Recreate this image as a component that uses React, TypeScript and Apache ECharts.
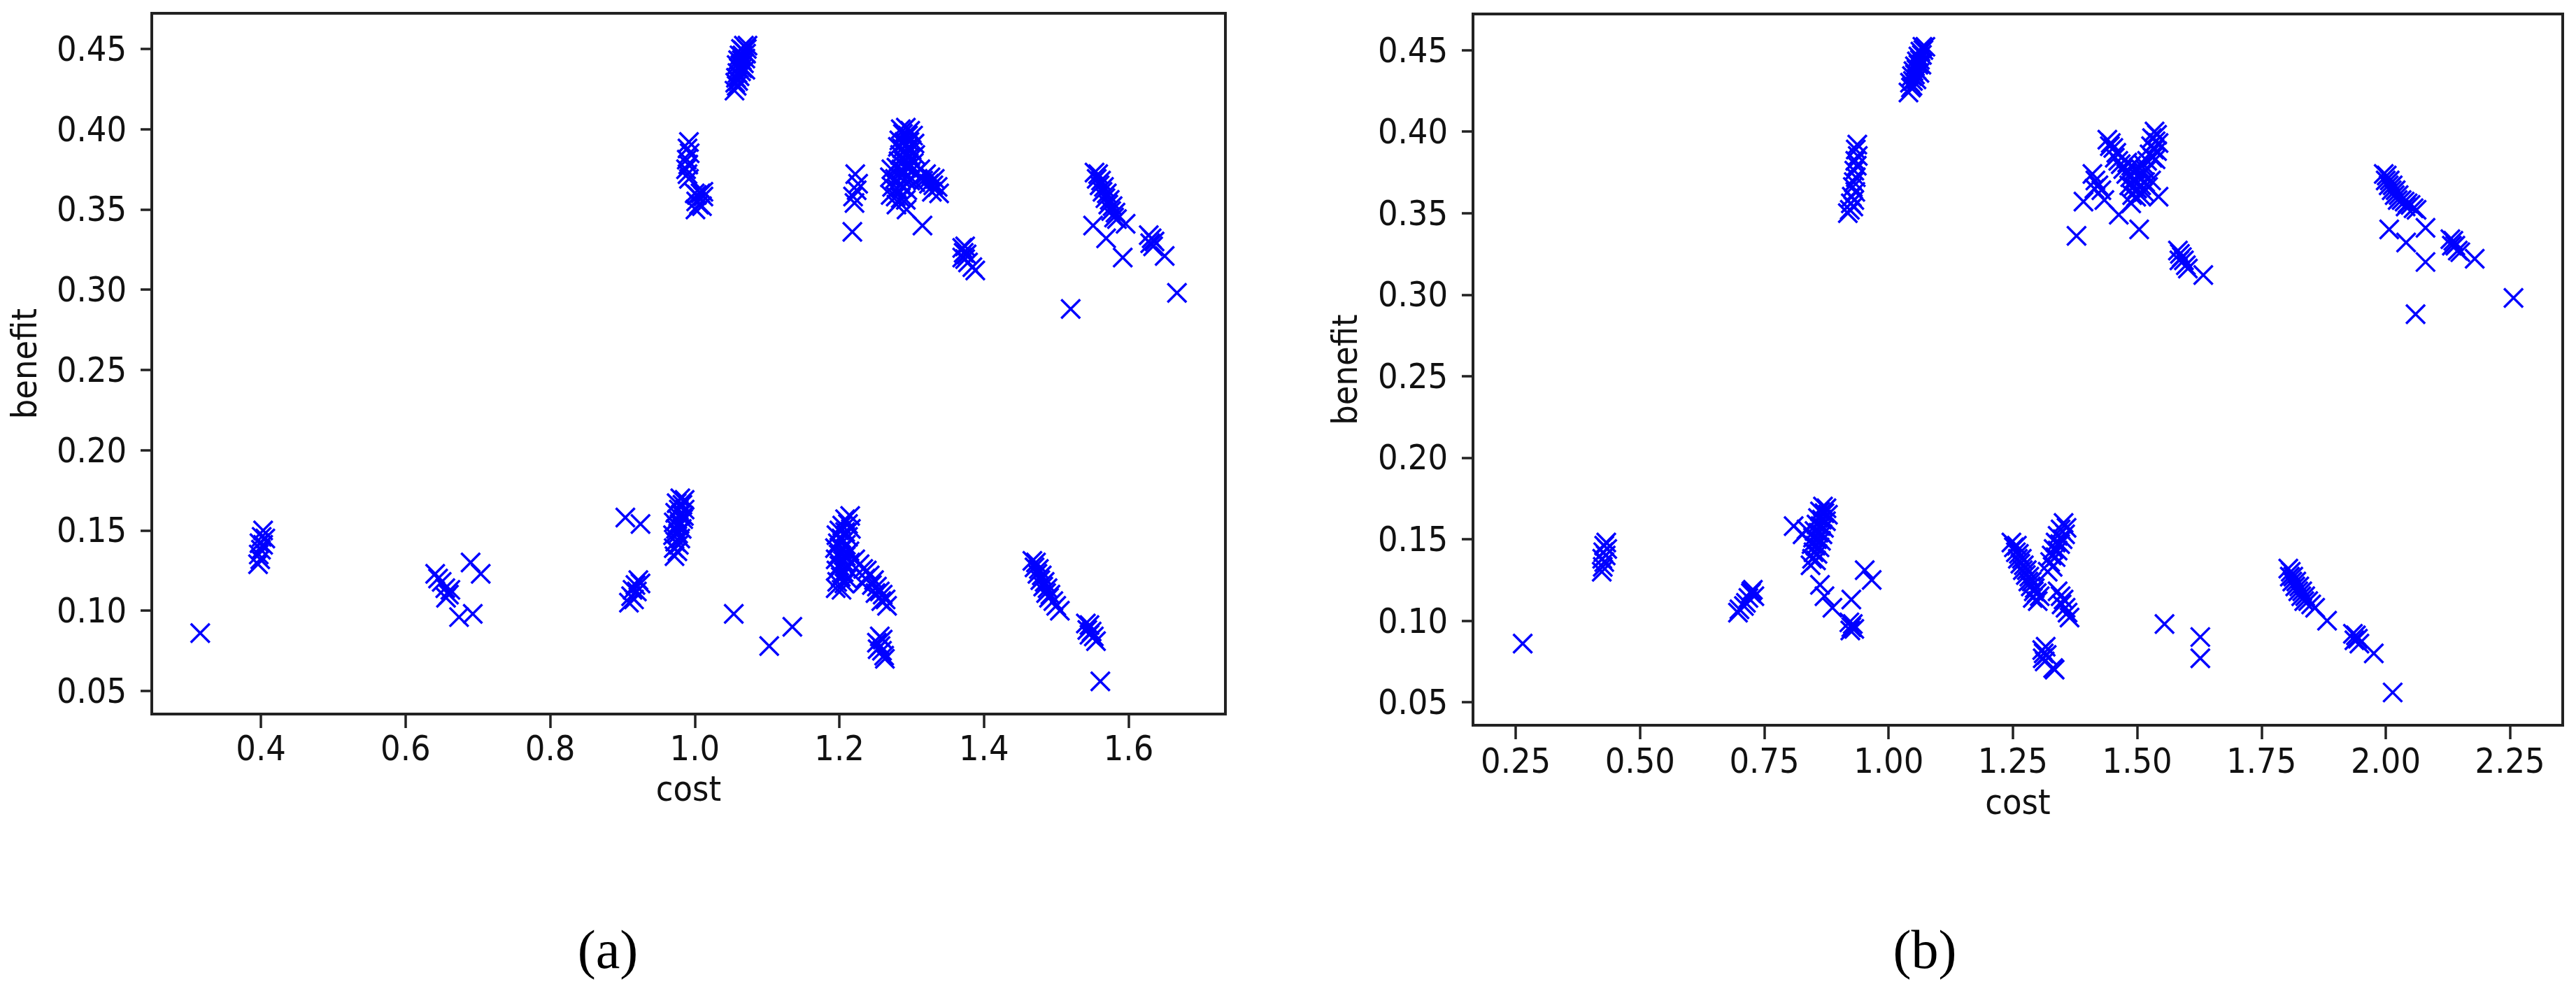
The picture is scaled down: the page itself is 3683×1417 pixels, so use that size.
import React, { useEffect, useRef } from "react";
import * as echarts from "echarts";

// ---------- data: panel (a) [cost, benefit] ----------
const pointsA: [number, number][] = [
  // top cluster ~1.06
  [1.055, 0.424], [1.058, 0.427], [1.06, 0.43], [1.057, 0.432], [1.062, 0.433], [1.059, 0.435],
  [1.064, 0.436], [1.061, 0.438], [1.066, 0.438], [1.063, 0.44], [1.058, 0.44], [1.068, 0.441],
  [1.065, 0.443], [1.06, 0.443], [1.07, 0.444], [1.066, 0.446], [1.062, 0.446], [1.071, 0.447],
  [1.067, 0.449], [1.064, 0.45], [1.072, 0.45], [1.068, 0.452], [1.073, 0.452], [1.056, 0.429], [1.07, 0.437],
  // ~0.99 upper
  [0.992, 0.392], [0.99, 0.388], [0.993, 0.385], [0.989, 0.381], [0.991, 0.378], [0.988, 0.375],
  [0.99, 0.372], [0.992, 0.369], [1.0, 0.36], [1.003, 0.359], [1.008, 0.36], [1.012, 0.358],
  [1.002, 0.355], [1.006, 0.353], [1.01, 0.352], [1.001, 0.35], [1.012, 0.361],
  // ~1.22
  [1.222, 0.372], [1.226, 0.366], [1.224, 0.362], [1.219, 0.358], [1.221, 0.354], [1.218, 0.336],
  // big cluster ~1.29
  [1.285, 0.4], [1.292, 0.401], [1.298, 0.399], [1.288, 0.397], [1.295, 0.396], [1.302, 0.396],
  [1.283, 0.393], [1.29, 0.392], [1.297, 0.392], [1.304, 0.391], [1.281, 0.389], [1.287, 0.388],
  [1.294, 0.388], [1.3, 0.387], [1.284, 0.384], [1.291, 0.384], [1.298, 0.383], [1.305, 0.384],
  [1.282, 0.38], [1.289, 0.38], [1.296, 0.379], [1.303, 0.379],
  [1.272, 0.375], [1.279, 0.376], [1.286, 0.375], [1.293, 0.376], [1.3, 0.374], [1.307, 0.373],
  [1.27, 0.37], [1.277, 0.369], [1.284, 0.37], [1.291, 0.369], [1.298, 0.368], [1.305, 0.367],
  [1.273, 0.364], [1.28, 0.363], [1.287, 0.364], [1.294, 0.362], [1.271, 0.359], [1.278, 0.358],
  [1.285, 0.357], [1.292, 0.356], [1.279, 0.353],
  [1.32, 0.372], [1.326, 0.37], [1.332, 0.369], [1.324, 0.366], [1.33, 0.365], [1.336, 0.364],
  [1.328, 0.361], [1.338, 0.36], [1.316, 0.368], [1.312, 0.375],
  [1.293, 0.35], [1.315, 0.34],
  // ~1.375
  [1.37, 0.326], [1.374, 0.327], [1.372, 0.323], [1.376, 0.322], [1.37, 0.32], [1.374, 0.319],
  [1.378, 0.317], [1.384, 0.314], [1.388, 0.312],
  // ~1.57
  [1.553, 0.373], [1.558, 0.372], [1.556, 0.369], [1.562, 0.368], [1.56, 0.365], [1.566, 0.364],
  [1.564, 0.361], [1.57, 0.36], [1.568, 0.357], [1.574, 0.356], [1.572, 0.353], [1.578, 0.352],
  [1.576, 0.349], [1.582, 0.348], [1.58, 0.345], [1.584, 0.344],
  [1.551, 0.34], [1.569, 0.332], [1.592, 0.32], [1.596, 0.341],
  [1.628, 0.334], [1.632, 0.332], [1.63, 0.329], [1.636, 0.33], [1.634, 0.327], [1.65, 0.321],
  [1.52, 0.288], [1.667, 0.298],
  // lower region
  [0.316, 0.086],
  [0.403, 0.15], [0.401, 0.146], [0.406, 0.145], [0.398, 0.142], [0.403, 0.141], [0.4, 0.138],
  [0.397, 0.135], [0.399, 0.132], [0.396, 0.129],
  [0.641, 0.123], [0.645, 0.12], [0.65, 0.118], [0.655, 0.114], [0.662, 0.113], [0.66, 0.11],
  [0.656, 0.108], [0.674, 0.096], [0.693, 0.098], [0.69, 0.13], [0.704, 0.123],
  [0.904, 0.158], [0.925, 0.154],
  [0.922, 0.119], [0.918, 0.116], [0.925, 0.117], [0.914, 0.113], [0.92, 0.112], [0.912, 0.109],
  [0.916, 0.107], [0.909, 0.105],
  [0.98, 0.17], [0.986, 0.169], [0.975, 0.167], [0.983, 0.166], [0.978, 0.163], [0.986, 0.163],
  [0.973, 0.161], [0.981, 0.16], [0.976, 0.157], [0.984, 0.157], [0.971, 0.155], [0.979, 0.154],
  [0.974, 0.151], [0.982, 0.151], [0.977, 0.148], [0.97, 0.147], [0.98, 0.145], [0.973, 0.143],
  [0.978, 0.141], [0.971, 0.139], [0.976, 0.137], [0.972, 0.134], [0.985, 0.159], [0.975, 0.153],
  [1.054, 0.098], [1.103, 0.078], [1.135, 0.09],
  [1.215, 0.159], [1.208, 0.157], [1.212, 0.154], [1.204, 0.153], [1.216, 0.151], [1.2, 0.15],
  [1.208, 0.149], [1.196, 0.147], [1.212, 0.146], [1.203, 0.145], [1.198, 0.142], [1.209, 0.141],
  [1.194, 0.139], [1.204, 0.138], [1.214, 0.137], [1.199, 0.135], [1.209, 0.134], [1.195, 0.132],
  [1.205, 0.131], [1.215, 0.13], [1.2, 0.128], [1.21, 0.127], [1.196, 0.125], [1.206, 0.124],
  [1.202, 0.121], [1.211, 0.12], [1.197, 0.118], [1.207, 0.117], [1.195, 0.114], [1.203, 0.113],
  [1.222, 0.132], [1.228, 0.129], [1.233, 0.126], [1.238, 0.125], [1.242, 0.122], [1.236, 0.12],
  [1.248, 0.119], [1.245, 0.116], [1.252, 0.115], [1.256, 0.112], [1.25, 0.111], [1.26, 0.11],
  [1.264, 0.107], [1.258, 0.106], [1.266, 0.103], [1.232, 0.117],
  [1.256, 0.084], [1.26, 0.082], [1.252, 0.08], [1.257, 0.078], [1.253, 0.076], [1.259, 0.075],
  [1.262, 0.072], [1.263, 0.07],
  [1.467, 0.131], [1.472, 0.13], [1.47, 0.127], [1.476, 0.126], [1.474, 0.123], [1.48, 0.122],
  [1.478, 0.119], [1.484, 0.118], [1.482, 0.115], [1.488, 0.114], [1.486, 0.111], [1.492, 0.11],
  [1.49, 0.108], [1.496, 0.106], [1.5, 0.103], [1.505, 0.1],
  [1.541, 0.092], [1.546, 0.091], [1.543, 0.088], [1.549, 0.087], [1.546, 0.085], [1.552, 0.084],
  [1.555, 0.081], [1.561, 0.056],
];

// ---------- data: panel (b) [cost, benefit] ----------
const pointsB: [number, number][] = [
  // top cluster ~1.06
  [1.04, 0.424], [1.045, 0.427], [1.043, 0.43], [1.049, 0.431], [1.047, 0.434], [1.053, 0.435],
  [1.05, 0.437], [1.056, 0.438], [1.053, 0.44], [1.06, 0.441], [1.057, 0.443], [1.063, 0.444],
  [1.06, 0.446], [1.067, 0.447], [1.064, 0.449], [1.07, 0.45], [1.068, 0.452], [1.074, 0.452],
  [1.056, 0.432], [1.062, 0.436], [1.048, 0.428], [1.066, 0.441],
  // ~0.93 upper
  [0.937, 0.392], [0.934, 0.389], [0.938, 0.385], [0.933, 0.382], [0.936, 0.379], [0.931, 0.376],
  [0.934, 0.372], [0.93, 0.369], [0.928, 0.366], [0.933, 0.363], [0.926, 0.36], [0.931, 0.358],
  [0.924, 0.356], [0.929, 0.354], [0.922, 0.352], [0.918, 0.35],
  // ~1.5 upper
  [1.44, 0.395], [1.445, 0.391],
  [1.535, 0.4], [1.54, 0.398], [1.53, 0.396], [1.537, 0.394], [1.543, 0.393], [1.528, 0.391],
  [1.534, 0.389], [1.54, 0.388], [1.525, 0.386], [1.531, 0.384], [1.537, 0.383],
  [1.447, 0.393], [1.452, 0.39], [1.458, 0.387], [1.455, 0.384], [1.462, 0.382], [1.467, 0.38], [1.472, 0.377],
  [1.48, 0.381], [1.488, 0.379], [1.496, 0.377], [1.504, 0.378], [1.512, 0.38], [1.52, 0.382],
  [1.478, 0.374], [1.486, 0.372], [1.494, 0.371], [1.502, 0.372], [1.51, 0.374], [1.518, 0.376],
  [1.484, 0.367], [1.492, 0.366], [1.5, 0.365], [1.508, 0.367], [1.516, 0.369], [1.49, 0.361],
  [1.498, 0.36], [1.506, 0.361], [1.514, 0.363], [1.522, 0.366], [1.528, 0.37],
  [1.41, 0.374], [1.416, 0.37], [1.422, 0.367], [1.414, 0.365], [1.428, 0.364], [1.392, 0.357],
  [1.434, 0.358], [1.463, 0.349], [1.488, 0.356], [1.504, 0.34], [1.543, 0.36], [1.378, 0.336],
  // ~1.59
  [1.582, 0.327], [1.586, 0.325], [1.59, 0.323], [1.585, 0.321], [1.594, 0.321], [1.598, 0.318],
  [1.602, 0.316], [1.633, 0.312],
  // ~2.02
  [1.996, 0.374], [2.002, 0.373], [2.0, 0.37], [2.008, 0.37], [2.006, 0.367], [2.014, 0.367],
  [2.012, 0.364], [2.02, 0.364], [2.018, 0.361], [2.026, 0.361], [2.024, 0.358], [2.032, 0.358],
  [2.038, 0.357], [2.044, 0.356], [2.04, 0.354], [2.05, 0.355], [2.056, 0.353], [2.062, 0.352],
  [2.007, 0.34], [2.041, 0.332], [2.08, 0.32], [2.08, 0.341],
  [2.13, 0.334], [2.136, 0.333], [2.133, 0.33], [2.14, 0.33], [2.145, 0.327], [2.15, 0.326], [2.179, 0.322],
  [2.06, 0.288], [2.257, 0.298],
  // lower region
  [0.264, 0.086],
  [0.432, 0.148], [0.428, 0.146], [0.434, 0.144], [0.426, 0.142], [0.431, 0.14], [0.424, 0.138],
  [0.428, 0.136], [0.425, 0.133], [0.423, 0.13],
  [0.727, 0.119], [0.723, 0.117], [0.73, 0.115], [0.718, 0.114], [0.713, 0.111], [0.709, 0.109],
  [0.7, 0.107], [0.697, 0.105], [0.724, 0.118],
  [0.868, 0.17], [0.875, 0.169], [0.862, 0.167], [0.871, 0.166], [0.878, 0.165], [0.858, 0.163],
  [0.866, 0.162], [0.874, 0.161], [0.855, 0.159], [0.863, 0.158], [0.87, 0.157], [0.851, 0.155],
  [0.859, 0.154], [0.867, 0.153], [0.848, 0.151], [0.856, 0.15], [0.864, 0.149], [0.845, 0.147],
  [0.853, 0.146], [0.861, 0.145], [0.849, 0.142], [0.857, 0.141], [0.846, 0.138], [0.854, 0.137],
  [0.843, 0.134], [0.809, 0.158], [0.827, 0.153], [0.835, 0.156],
  [0.862, 0.122], [0.871, 0.115], [0.887, 0.108], [0.925, 0.113], [0.952, 0.131], [0.966, 0.125],
  [0.921, 0.099], [0.928, 0.098], [0.925, 0.096], [0.931, 0.095], [0.923, 0.094],
  [1.247, 0.148], [1.252, 0.145], [1.258, 0.146], [1.256, 0.142], [1.262, 0.141], [1.26, 0.138],
  [1.268, 0.138], [1.265, 0.135], [1.272, 0.134], [1.27, 0.131], [1.278, 0.131], [1.276, 0.128],
  [1.283, 0.127], [1.281, 0.124], [1.288, 0.124], [1.286, 0.121], [1.294, 0.12], [1.292, 0.118],
  [1.298, 0.117], [1.304, 0.115], [1.29, 0.114], [1.3, 0.112],
  [1.34, 0.118], [1.346, 0.115], [1.352, 0.113], [1.348, 0.11], [1.356, 0.108], [1.36, 0.105], [1.364, 0.102],
  [1.352, 0.16], [1.358, 0.157], [1.346, 0.156], [1.355, 0.153], [1.34, 0.152], [1.35, 0.15],
  [1.336, 0.148], [1.345, 0.147], [1.332, 0.144], [1.34, 0.143], [1.328, 0.14], [1.336, 0.139],
  [1.325, 0.136], [1.33, 0.133], [1.32, 0.13],
  [1.316, 0.084], [1.309, 0.082], [1.312, 0.08], [1.318, 0.079], [1.31, 0.077], [1.314, 0.075],
  [1.331, 0.071], [1.334, 0.07],
  [1.555, 0.098], [1.627, 0.09], [1.627, 0.077],
  [1.804, 0.132], [1.809, 0.13], [1.807, 0.127], [1.814, 0.127], [1.812, 0.124], [1.82, 0.124],
  [1.818, 0.121], [1.826, 0.121], [1.824, 0.118], [1.832, 0.118], [1.83, 0.115], [1.838, 0.115],
  [1.836, 0.112], [1.844, 0.112], [1.85, 0.11], [1.858, 0.108], [1.882, 0.1],
  [1.934, 0.092], [1.94, 0.091], [1.937, 0.088], [1.944, 0.089], [1.947, 0.086], [1.976, 0.08],
  [2.014, 0.056],
];

// ---------- ticks ----------
const xTicksA = [0.4, 0.6, 0.8, 1.0, 1.2, 1.4, 1.6];
const xTicksB = [0.25, 0.5, 0.75, 1.0, 1.25, 1.5, 1.75, 2.0, 2.25];
const yTicks = [0.05, 0.1, 0.15, 0.2, 0.25, 0.3, 0.35, 0.4, 0.45];
const captions = ["(a)", "(b)"];

const TICK_FONT = '"DejaVu Sans Condensed", "DejaVu Sans", sans-serif';
const INK = "#222";
const MARK = "#0000ff";

function xAxisCfg(grid: number, min: number, max: number, ticks: number[], digits: number, gap: number, margin: number) {
  return {
    gridIndex: grid,
    type: "value",
    min,
    max,
    name: "cost",
    nameLocation: "middle",
    nameGap: gap,
    nameTextStyle: { fontFamily: TICK_FONT, fontSize: 50, color: "#111" },
    axisLine: { show: false },
    axisTick: { show: true, length: 20, lineStyle: { color: INK, width: 3.5 }, customValues: ticks },
    axisLabel: {
      customValues: ticks,
      formatter: (v: number) => v.toFixed(digits),
      margin,
      fontSize: 50,
      fontFamily: TICK_FONT,
      color: "#111",
    },
    splitLine: { show: false },
  };
}

function yAxisCfg(grid: number, min: number, max: number, gap: number) {
  return {
    gridIndex: grid,
    type: "value",
    min,
    max,
    name: "benefit",
    nameLocation: "middle",
    nameGap: gap,
    nameTextStyle: { fontFamily: TICK_FONT, fontSize: 50, color: "#111" },
    axisLine: { show: false },
    axisTick: { show: true, length: 16, lineStyle: { color: INK, width: 3.5 }, customValues: yTicks },
    axisLabel: {
      customValues: yTicks,
      formatter: (v: number) => v.toFixed(2),
      margin: 36,
      fontSize: 50,
      fontFamily: TICK_FONT,
      color: "#111",
    },
    splitLine: { show: false },
  };
}

const X_SYMBOL = "path://M0,0L10,10M10,0L0,10";

function scatter(idx: number, data: [number, number][]) {
  return {
    type: "scatter",
    xAxisIndex: idx,
    yAxisIndex: idx,
    data,
    symbol: X_SYMBOL,
    symbolSize: 27,
    itemStyle: { color: MARK, borderColor: MARK, borderWidth: 3.5, opacity: 1 },
  };
}

export default function App() {
  const ref = useRef<HTMLDivElement>(null);
  useEffect(() => {
    if (!ref.current) return;
    const chart = echarts.init(ref.current, undefined, { renderer: "svg" });
    chart.setOption({
      animation: false,
      backgroundColor: "#ffffff",
      grid: [
        { left: 217, top: 19, width: 1535, height: 1002, show: true, borderColor: INK, borderWidth: 4, backgroundColor: "transparent" },
        { left: 2106, top: 20, width: 1558, height: 1017, show: true, borderColor: INK, borderWidth: 4, backgroundColor: "transparent" },
      ],
      xAxis: [
        xAxisCfg(0, 0.249, 1.734, xTicksA, 1, 82, 24),
        xAxisCfg(1, 0.164, 2.356, xTicksB, 2, 85, 26),
      ],
      yAxis: [yAxisCfg(0, 0.0356, 0.4722, 157), yAxisCfg(1, 0.0359, 0.4721, 158)],
      series: [scatter(0, pointsA), scatter(1, pointsB)],
      graphic: [
        {
          type: "text",
          x: 869,
          y: 1357,
          style: { text: captions[0], font: '78px "Liberation Serif", serif', fill: "#000", textAlign: "center", textVerticalAlign: "middle" },
        },
        {
          type: "text",
          x: 2752,
          y: 1357,
          style: { text: captions[1], font: '78px "Liberation Serif", serif', fill: "#000", textAlign: "center", textVerticalAlign: "middle" },
        },
      ],
    });
    return () => chart.dispose();
  }, []);
  return (
    <div
      ref={ref}
      style={{ position: "fixed", left: 0, top: 0, width: 3683, height: 1417, background: "#fff" }}
    />
  );
}
